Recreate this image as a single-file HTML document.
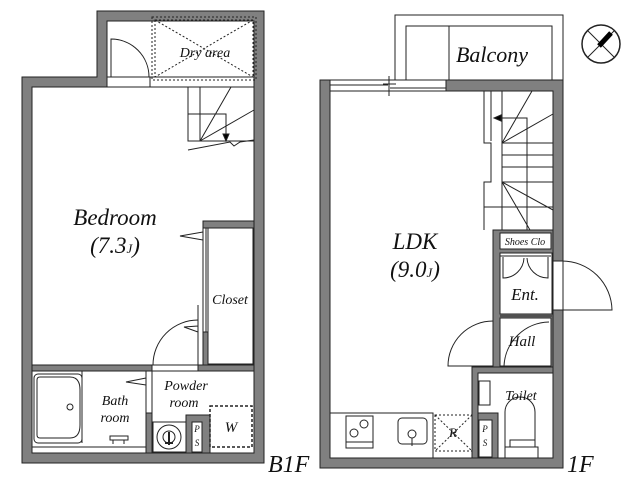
<!DOCTYPE html>
<html><head><meta charset="utf-8"><style>
html,body{margin:0;padding:0;background:#fff;width:640px;height:480px;overflow:hidden}
svg{display:block}
text{font-family:"Liberation Serif",serif;font-style:italic;fill:#111}
</style></head><body>
<svg width="640" height="480" viewBox="0 0 640 480" xmlns="http://www.w3.org/2000/svg">
<g stroke="#222" stroke-width="1" fill="none">
<!-- ===== B1F ===== -->
<path d="M97 11 H264 V463 H22 V77 H97 Z M32 87 V453 H254 V21 H107 V87 Z" fill="#808080" fill-rule="evenodd"/>
<rect x="107" y="21" width="147" height="56" fill="#fff" stroke="none"/>
<path d="M107 21 H254 V77 H150 M111 77 H107 V21"/>
<rect x="107" y="77" width="43" height="10" fill="#fff"/>
<path d="M111 77 V39 A38 38 0 0 1 149 77"/>
<rect x="152" y="17" width="104" height="63" stroke-dasharray="2,2"/>
<rect x="155" y="20" width="98" height="57" stroke-dasharray="2,2"/>
<path d="M155 20 L253 77 M253 20 L155 77" stroke-dasharray="2,2"/>
<rect x="32" y="87" width="222" height="278" fill="#fff" stroke="#222"/>
<path d="M188 87 V141 H254 M200 87 V141 M188 114 H226 V134 M200 141 L231 87 M200 141 L254 110 M188 150 L230 142 L234 146 L240 142 L254 140"/>
<path d="M223 134 L226 141 L229 134 Z" fill="#000"/>
<rect x="203" y="221" width="51" height="144" fill="#808080"/>
<rect x="208" y="228" width="45" height="136" fill="#fff"/>
<rect x="203" y="228" width="5" height="104" fill="#fff"/>
<path d="M206 228 V332 M203 240 L180 236 L203 232"/>
<path d="M198 332 L184 327 L198 326 M198 305 V365"/>
<rect x="32" y="365" width="222" height="6" fill="#808080"/>
<rect x="152" y="365" width="46" height="6" fill="#fff"/>
<path d="M153 365 A45 45 0 0 1 198 320"/>
<rect x="32" y="371" width="114" height="82" fill="#fff"/>
<rect x="146" y="371" width="6" height="82" fill="#808080"/>
<rect x="146" y="371" width="6" height="42" fill="#fff"/>
<path d="M146 385 L126 382 L146 378"/>
<rect x="34" y="374" width="48" height="69" rx="4"/>
<path d="M37 380 Q37 377 40 377 H70 Q80 377 80 390 V425 Q80 438 70 438 H40 Q37 438 37 435 Z"/>
<circle cx="70" cy="407" r="3"/>
<path d="M82 371 V443 M32 447 H146"/>
<rect x="110" y="436" width="18" height="4"/><path d="M113 440 V444 M124 440 V444"/>
<rect x="152" y="371" width="102" height="82" fill="#fff"/>
<rect x="186" y="415" width="24" height="38" fill="#808080"/>
<rect x="192" y="422" width="10" height="30" fill="#fff"/>
<rect x="153" y="422" width="33" height="30" fill="#fff"/>
<circle cx="169" cy="437" r="12"/>
<circle cx="169" cy="437" r="6"/>
<path d="M169 432 V445 M165 443 H173" stroke-width="2"/>
<rect x="210" y="406" width="42" height="41" stroke-dasharray="3,2" stroke-width="1.5"/>

<!-- ===== 1F ===== -->
<rect x="395" y="15" width="168" height="65"/>
<rect x="406" y="26" width="146" height="54"/>
<path d="M449 26 V80"/>
<path d="M320 80 H563 V468 H320 Z M330 91 V458 H553 V91 Z" fill="#808080" fill-rule="evenodd"/>
<rect x="330" y="91" width="223" height="367" fill="#fff" stroke="#222"/>
<rect x="330" y="80" width="116" height="11" fill="#fff"/>
<path d="M330 85 H388 M390 88 H446 M389 76 V96 M383 84 H396"/>
<path d="M484 91 V143 H491 V182 H484 V230 M491 91 V141 M502 91 V230 M502 143 H553 M502 155 H553 M502 167 H553 M502 182 H553 M484 207 H553 M502 118 H527 V230 M502 143 L532 91 M502 143 L553 114 M502 182 L553 210 M502 182 L530 230 M502 118 H497"/>
<path d="M501 115 L494 118 L501 121 Z" fill="#000"/>
<rect x="493" y="230" width="60" height="138" fill="#808080"/>
<rect x="500" y="233" width="51" height="16" fill="#fff"/>
<rect x="500" y="253" width="52" height="61" fill="#fff"/>
<rect x="500" y="318" width="51" height="48" fill="#fff"/>
<path d="M500 256 H551 M500 316 H552"/>
<path d="M503 257 V278 A21 21 0 0 0 524 258 M548 257 V278 A21 21 0 0 1 527 258"/>
<rect x="553" y="261" width="10" height="49" fill="#fff"/>
<path d="M562 261 A50 50 0 0 1 612 310 H562"/>
<path d="M493 321 A45 45 0 0 0 448 366 H493"/>
<path d="M549 322 A46 46 0 0 0 504 366"/>
<rect x="472" y="367" width="81" height="91" fill="#808080"/>
<rect x="478" y="373" width="75" height="85" fill="#fff"/>
<rect x="478" y="413" width="20" height="45" fill="#808080"/>
<rect x="479" y="420" width="13" height="37" fill="#fff"/>
<rect x="479" y="381" width="11" height="24"/>
<path d="M505 448 V412 A15 15 0 0 1 535 412 V440"/>
<rect x="510" y="440" width="25" height="7"/>
<rect x="505" y="447" width="33" height="11"/>
<rect x="330" y="413" width="103" height="45" fill="#fff"/>
<rect x="346" y="416" width="27" height="32"/>
<path d="M346 442 H373"/>
<circle cx="364" cy="424" r="4"/><circle cx="354" cy="433" r="4"/>
<rect x="398" y="418" width="29" height="26" rx="4"/>
<circle cx="412" cy="434" r="4"/><path d="M412 438 V446"/>
<rect x="435" y="415" width="37" height="36" stroke-dasharray="2,2"/>
<path d="M435 415 L472 451 M472 415 L435 451" stroke-dasharray="2,2"/>
<circle cx="601" cy="44" r="19" stroke-width="1.5"/>
<path d="M588 31 L614 57 M614 57 M588 57 L614 31"/>
<path d="M599 46 L611 33" stroke="#000" stroke-width="5"/>
</g>
<text x="115" y="225" font-size="23" text-anchor="middle">Bedroom</text>
<text x="115" y="253" font-size="23" text-anchor="middle">(7.3<tspan font-size="13">J</tspan>)</text>
<text x="205" y="57" font-size="14" text-anchor="middle">Dry area</text>
<text x="230" y="304" font-size="14" text-anchor="middle">Closet</text>
<text x="115" y="405" font-size="14" text-anchor="middle">Bath</text>
<text x="115" y="422" font-size="14" text-anchor="middle">room</text>
<text x="186" y="390" font-size="14" text-anchor="middle">Powder</text>
<text x="184" y="407" font-size="14" text-anchor="middle">room</text>
<text x="231" y="432" font-size="15" text-anchor="middle">W</text>
<text x="197" y="432" font-size="9" text-anchor="middle">P</text>
<text x="197" y="446" font-size="9" text-anchor="middle">S</text>
<text x="268" y="472" font-size="24">B1F</text>
<text x="492" y="62" font-size="22" text-anchor="middle">Balcony</text>
<text x="415" y="249" font-size="23" text-anchor="middle">LDK</text>
<text x="415" y="277" font-size="23" text-anchor="middle">(9.0<tspan font-size="13">J</tspan>)</text>
<text x="525" y="245" font-size="10" text-anchor="middle">Shoes Clo</text>
<text x="525" y="300" font-size="17" text-anchor="middle">Ent.</text>
<text x="522" y="346" font-size="15" text-anchor="middle">Hall</text>
<text x="521" y="400" font-size="14" text-anchor="middle">Toilet</text>
<text x="453" y="437" font-size="13" text-anchor="middle">R</text>
<text x="485" y="432" font-size="9" text-anchor="middle">P</text>
<text x="485" y="446" font-size="9" text-anchor="middle">S</text>
<text x="567" y="472" font-size="24">1F</text>
</svg>
</body></html>
